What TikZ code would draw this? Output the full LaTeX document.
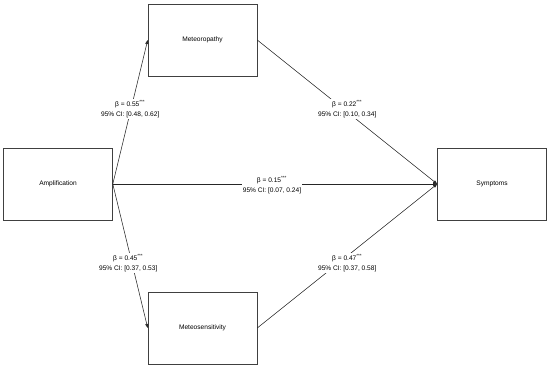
\documentclass[tikz,border=0pt]{standalone}
\usepackage{fontspec}
\setmainfont{Liberation Sans}
\usetikzlibrary{arrows.meta}
\begin{document}
\begin{tikzpicture}[x=1pt,y=-1pt,
  box/.style={draw=black!75, line width=0.6pt, minimum width=109pt, minimum height=72pt, inner sep=0pt, font=\fontsize{6.6}{8}\selectfont},
  conn/.style={draw=black!85, line width=0.55pt, -{Triangle[length=4pt,width=3pt]}},
  lab/.style={fill=white, inner sep=1pt, align=center, font=\fontsize{6.6}{10.5}\selectfont}]
\useasboundingbox (0,0) rectangle (550,369);
\node[box] (amp) at (58,184) {Amplification};
\node[box] (met) at (202.5,40) {Meteoropathy};
\node[box] (sen) at (202.5,328) {Meteosensitivity};
\node[box] (sym) at (492,184) {Symptoms};
\draw[conn] (amp.east) -- (met.west) node[lab, midway, yshift=3pt] {β = 0.55\textsuperscript{***}\\95\% CI: [0.48, 0.62]};
\draw[conn] (amp.east) -- (sen.west) node[lab, midway, yshift=-7pt, xshift=-2pt] {β = 0.45\textsuperscript{***}\\95\% CI: [0.37, 0.53]};
\draw[conn] (met.east) -- (sym.west) node[lab, midway, yshift=3pt] {β = 0.22\textsuperscript{***}\\95\% CI: [0.10, 0.34]};
\draw[conn] (sen.east) -- (sym.west) node[lab, midway, yshift=-7pt] {β = 0.47\textsuperscript{***}\\95\% CI: [0.37, 0.58]};
\draw[conn] (amp.east) -- (sym.west) node[lab, midway, xshift=-3pt, yshift=-1pt] {β = 0.15\textsuperscript{***}\\95\% CI: [0.07, 0.24]};
\end{tikzpicture}
\end{document}
